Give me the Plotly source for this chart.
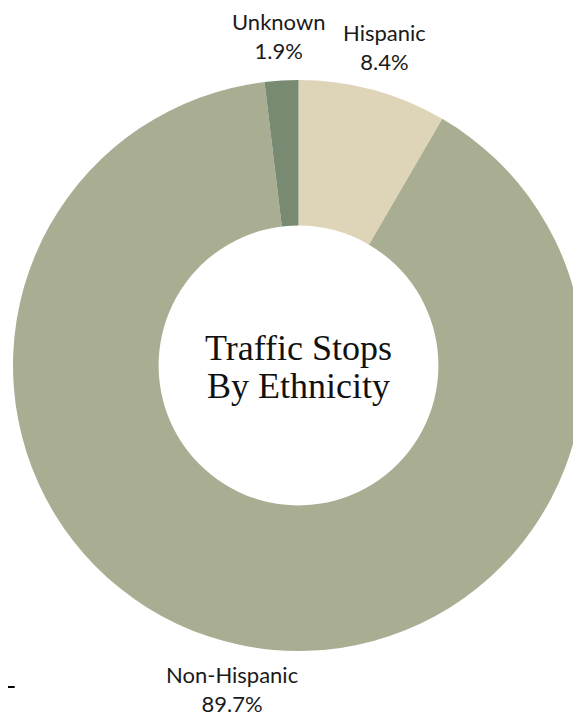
import math

import plotly.graph_objects as go

# ── data ─────────────────────────────────────────────────────────────────────
ETHNICITIES = ["Hispanic", "Non-Hispanic", "Unknown"]
SHARES = [8.4, 89.7, 1.9]
SLICE_COLORS = ["#DED5B9", "#A9AE93", "#788A72"]

CENTER_LINES = ["Traffic Stops", "By Ethnicity"]
CENTER_FONT = dict(family="Liberation Serif, serif", size=36, color="#111111")
LABEL_FONT = dict(family="Lato, sans-serif", size=22, color="#1a1a1a")
LABEL_RADIUS = 0.578  # paper units, plot area is square

fig = go.Figure(
    go.Pie(
        labels=ETHNICITIES,
        values=SHARES,
        hole=0.49,
        sort=False,
        direction="clockwise",
        rotation=0,
        textinfo="none",
        marker=dict(colors=SLICE_COLORS, line=dict(width=0)),
        showlegend=False,
        hoverinfo="label+percent",
    )
)

# centre title, two lines set a little tighter than plotly's default leading
for line, ypos in zip(CENTER_LINES, [0.531, 0.464]):
    fig.add_annotation(
        x=0.5, y=ypos, xref="paper", yref="paper",
        text=line, showarrow=False, font=CENTER_FONT,
        xanchor="center", yanchor="middle",
    )

# outside labels, centred on the middle angle of each slice
total = sum(SHARES)
cum = 0.0
for name, val in zip(ETHNICITIES, SHARES):
    mid = (cum + val / 2) / total * 2 * math.pi
    cum += val
    fig.add_annotation(
        x=0.5 + LABEL_RADIUS * math.sin(mid),
        y=0.5 + LABEL_RADIUS * math.cos(mid),
        xref="paper", yref="paper",
        text=f"{name}<br>{val:.1f}%",
        showarrow=False,
        font=LABEL_FONT,
        align="center",
        borderpad=0,
        xanchor="center", yanchor="middle",
    )

# small stray tick at the bottom-left corner
fig.add_shape(
    type="line", xref="paper", yref="paper",
    x0=-0.0088, x1=0.003, y0=-0.063, y1=-0.063,
    line=dict(color="#000000", width=2),
)

fig.update_layout(
    width=581,
    height=717,
    margin=dict(l=5, r=5, t=72, b=74),
    paper_bgcolor="#FFFFFF",
    plot_bgcolor="#FFFFFF",
)

fig.write_html("out.html")
